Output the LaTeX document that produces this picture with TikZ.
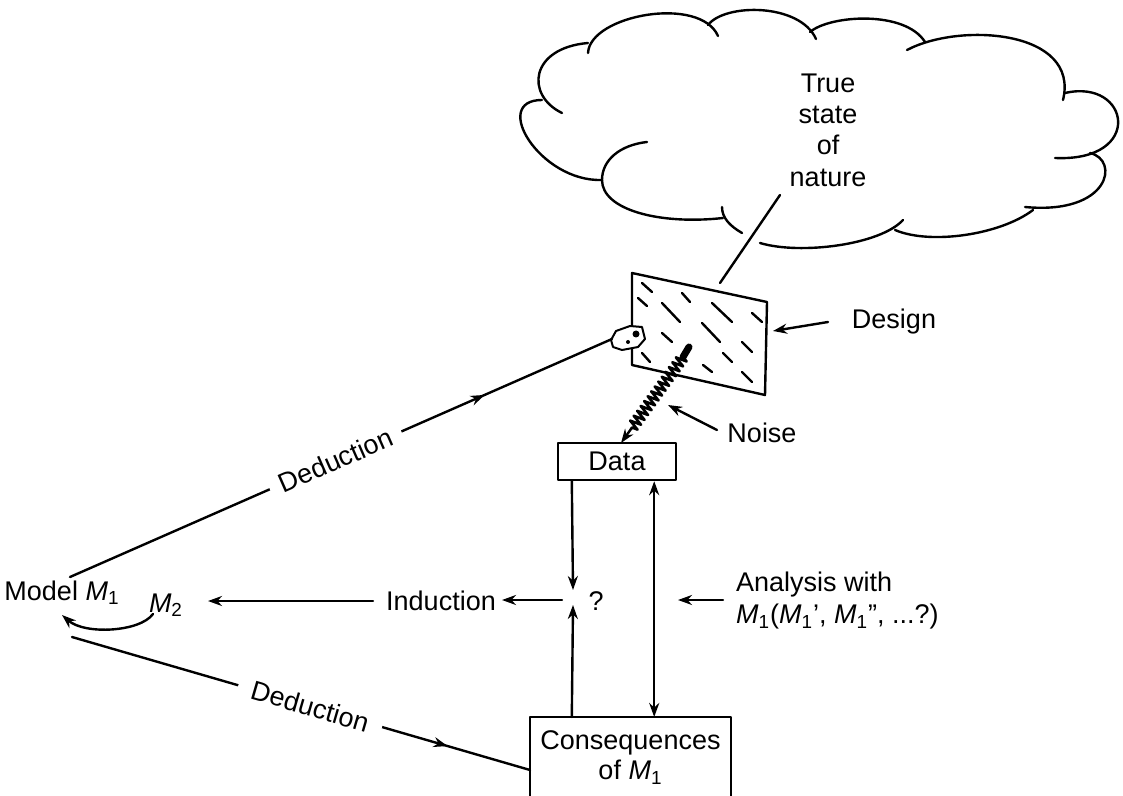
\documentclass[tikz,border=0pt]{standalone}
\usepackage{fontspec}
\setmainfont{Liberation Sans}
\usetikzlibrary{arrows.meta,decorations.pathmorphing,decorations.markings}
\begin{document}
\begin{tikzpicture}[x=0.5pt,y=-0.5pt, line width=1.2pt, line cap=round, line join=round,
  txt/.style={font=\fontsize{13.5}{15.5}\selectfont, inner sep=0pt},
  arr/.style={-{Stealth[length=7pt,width=5pt]}},
  dblarr/.style={{Stealth[length=7pt,width=5pt]}-{Stealth[length=7pt,width=5pt]}},
  midarrow/.style={postaction={decorate}, decoration={markings, mark=at position #1 with {\arrow{Stealth[length=7pt,width=5pt]}}}},
  hatch/.style={line width=1.2pt},
  boxed/.style={draw, txt, minimum width=59pt, minimum height=18.5pt}]
\useasboundingbox (0,0) rectangle (1123,796);

% ---- cloud ----
\draw (602,180) .. controls (540,182) and (490,100) .. (542,100);
\draw (562,113) .. controls (525,95) and (530,48) .. (588,43);
\draw (588,53) .. controls (590,15) and (700,-5) .. (718,36);
\draw (708,25) .. controls (725,3) and (800,3) .. (816,39);
\draw (810,32) .. controls (830,15) and (905,10) .. (925,42);
\draw (907,50) .. controls (960,22) and (1080,30) .. (1063,100);
\draw (1065,93) .. controls (1130,78) and (1145,162) .. (1055,158);
\draw (1090,153) .. controls (1120,160) and (1110,215) .. (1025,207);
\draw (1033,210) .. controls (1000,235) and (930,245) .. (895,230);
\draw (903,220) .. controls (880,245) and (800,255) .. (760,243);
\draw (742,233) .. controls (730,226) and (722,218) .. (722,207);
\draw (647,142) .. controls (620,145) and (602,160) .. (602,180)
      .. controls (602,210) and (660,225) .. (723,218);
\node[txt, align=center, font=\fontsize{13.5}{15.7}\selectfont] (truth) at (828,130) {True\\state\\of\\nature};

% ---- line from cloud to design ----
\coordinate (cloudfoot) at (780,195);
\coordinate (designtop) at (720,283);
\draw (cloudfoot) -- (designtop);

% ---- design screen ----
\draw (632,273) -- (767,302) -- (765,395) -- (632,365) -- cycle;
\foreach \ax/\ay/\bx/\by in {642/283/652/292, 638/298/647/306, 662/303/680/322,
  682/293/690/302, 712/303/732/322, 752/313/762/322, 702/323/720/342,
  662/333/672/342, 742/342/752/352, 642/353/650/362, 723/353/732/362,
  703/365/712/372, 742/372/752/382}
  \draw[hatch] (\ax,\ay) -- (\bx,\by);

% plug at the end of the deduction line
\coordinate (plug) at (612,339);
\draw[line width=1pt, fill=white] (611,340) -- (616,331) -- (630,326) -- (642,327) -- (645,339) -- (638,347) -- (622,350) -- (613,347) -- cycle;
\fill (636,334) circle[radius=3.5];
\fill (628,342) circle[radius=2];

% design label
\node[txt] (design) at (894,322) {Design};
\coordinate (designtail) at (828,322);
\coordinate (designtip) at (773,331);
\draw[arr] (designtail) -- (designtip);

% ---- data ----
\node[boxed] (data) at (617,461.5) {Data};

% noise
\coordinate (noisestart) at (683,357);
\coordinate (noiseend) at (631,429);
\coordinate (noisetip) at (621,443);
\draw[line width=3.5pt] (689,347) -- (noisestart);
\draw[line width=1.3pt, decorate, decoration={zigzag, segment length=3pt, amplitude=2.8pt}] (noisestart) -- (noiseend);
\draw[arr] (noiseend) -- (noisetip);
\node[txt] (noise) at (762,433) {Noise};
\coordinate (noisetail) at (717,430);
\coordinate (noisearr) at (668,405);
\draw[arr] (noisetail) -- (noisearr);

% ---- consequences ----
\node[txt, minimum width=99.5pt, minimum height=39.5pt, align=center, anchor=north, font=\fontsize{13.5}{15}\selectfont] (cons) at (630.5,717) {Consequences\\of \textit{M}\textsubscript{1}};
\draw (cons.south west) -- (cons.north west) -- (cons.north east) -- (cons.south east);

% ---- the crossing point ----
\coordinate (q) at (573,597);
\node[txt] (qm) at (596,601) {?};
\draw[arr] ([xshift=7.5pt]data.south west) -- ([yshift=3.5pt]q);
\draw[arr] ([xshift=7.5pt]data.south west |- cons.north) -- ([yshift=-4pt]q);
\draw[dblarr] ([xshift=-11.5pt]data.south east) -- ([xshift=-11.5pt]data.south east |- cons.north);

% analysis
\node[txt, anchor=west, align=left, font=\fontsize{13.5}{16}\selectfont] (ana) at (735,601)
  {Analysis with\\\textit{M}\textsubscript{1}(\textit{M}\textsubscript{1}’, \textit{M}\textsubscript{1}”, ...?)};
\coordinate (anatail) at (723,600);
\coordinate (anatip) at (678,600);
\draw[arr] (anatail) -- (anatip);

% induction
\node[txt] (ind) at (441,601) {Induction};
\coordinate (qleft) at (562,600);
\coordinate (indtip) at (502,600);
\draw[arr] (qleft) -- (indtip);
\coordinate (indtail) at (373,601);
\coordinate (m2tip) at (208,601);
\draw[arr] (indtail) -- (m2tip);

% model
\node[txt] (model) at (62,593) {Model \textit{M}\textsubscript{1}};
\node[txt] (m2) at (166,605) {\textit{M}\textsubscript{2}};
\coordinate (m2start) at (153,614);
\coordinate (m1tip) at (62,615);
\draw[arr] (m2start) .. controls (140,632) and (85,635) .. (m1tip);

% deductions
\coordinate (mU) at (70,577);
\coordinate (mL) at (72,637);
\coordinate (consL) at (530,770);
\draw[midarrow=0.765] (mU) -- node[pos=0.49, sloped, txt, fill=white, inner xsep=5.5pt, inner ysep=3pt] {Deduction} (plug);
\draw[midarrow=0.82] (mL) -- node[pos=0.52, sloped, txt, fill=white, inner xsep=7pt, inner ysep=3pt] {Deduction} (consL);
\end{tikzpicture}
\end{document}
